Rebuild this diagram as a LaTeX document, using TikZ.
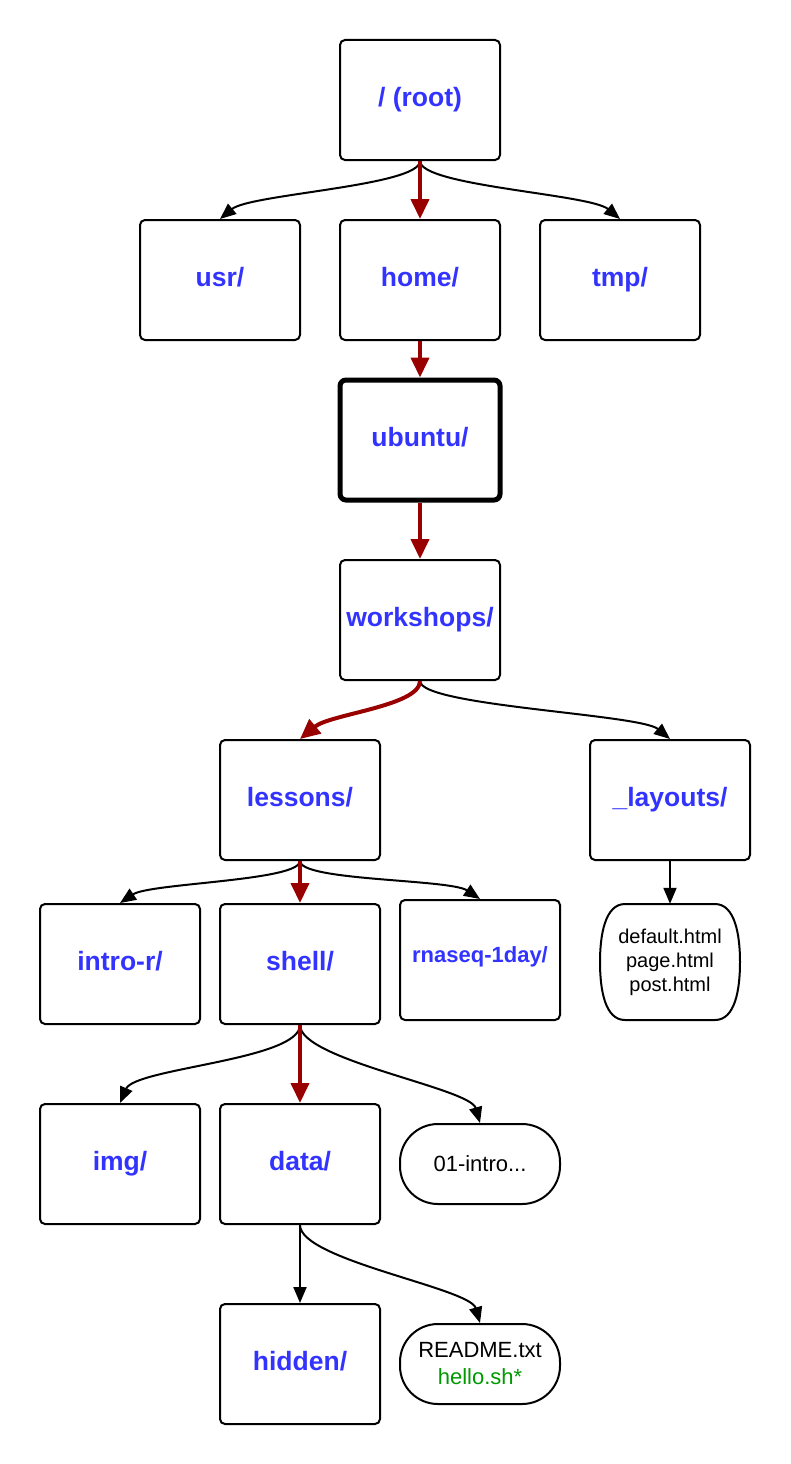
\documentclass[tikz,border=0pt]{standalone}
\usepackage{fontspec}
\setmainfont{Liberation Sans}
\usetikzlibrary{arrows.meta}
\definecolor{dirblue}{HTML}{3333FF}
\definecolor{pathred}{HTML}{990000}
\definecolor{exegreen}{HTML}{009900}
\begin{document}
\begin{tikzpicture}[x=1pt,y=-1pt,
  dirbox/.style={draw, line width=2pt, rounded corners=5pt, minimum width=160pt, minimum height=120pt,
    inner sep=0pt, text height=18pt, text depth=6pt, font=\fontsize{26.5}{31}\selectfont\bfseries, text=dirblue},
  smalldir/.style={dirbox, text height=14pt, text depth=9pt, font=\fontsize{22}{27}\selectfont\bfseries},
  curdir/.style={dirbox, line width=5pt, rounded corners=6pt},
  filebox/.style={draw, line width=2pt, rounded corners=38pt, minimum width=160pt, minimum height=80pt,
    inner sep=0pt, align=center, font=\fontsize{22}{27}\selectfont, text=black},
  filelist/.style={draw=none, minimum width=140pt, minimum height=116pt, inner sep=0pt,
    align=center, font=\fontsize{20}{24}\selectfont, text=black},
  link/.style={draw=black, line width=2pt, -{Triangle[length=16pt,width=13pt]}},
  pathlink/.style={draw=pathred, line width=4pt, -{Triangle[length=20pt,width=18pt]}}
]
\useasboundingbox (0,0) rectangle (790,1464);

\node[dirbox] (root) at (420,100) {/ (root)};
\node[dirbox] (usr) at (220,280) {usr/};
\node[dirbox] (home) at (420,280) {home/};
\node[dirbox] (tmp) at (620,280) {tmp/};
\node[curdir] (ubuntu) at (420,440) {ubuntu/};
\node[dirbox] (workshops) at (420,620) {workshops/};
\node[dirbox] (lessons) at (300,800) {lessons/};
\node[dirbox] (layouts) at (670,800) {\_layouts/};
\node[dirbox] (intror) at (120,964) {intro-r/};
\node[dirbox] (shell) at (300,964) {shell/};
\node[smalldir] (rnaseq) at (480,960) {rnaseq-1day/};
\node[filelist] (html) at (670,962) {default.html\\page.html\\post.html};
\draw[line width=2pt] (625,904) -- (715,904)
  .. controls (735,904) and (740,935) .. (740,962)
  .. controls (740,990) and (735,1020) .. (715,1020) -- (625,1020)
  .. controls (605,1020) and (600,990) .. (600,962)
  .. controls (600,935) and (605,904) .. cycle;
\node[dirbox] (img) at (120,1164) {img/};
\node[dirbox] (data) at (300,1164) {data/};
\node[filebox] (intro) at (480,1164) {01-intro...};
\node[dirbox] (hidden) at (300,1364) {hidden/};
\node[filebox] (readme) at (480,1364) {README.txt\\\textcolor{exegreen}{hello.sh*}};

% black connectors
\draw[link] (root.south) .. controls +(0,25) and +(30,-25) .. (usr.north);
\draw[link] (root.south) .. controls +(0,25) and +(-30,-25) .. (tmp.north);
\draw[link] (workshops.south) .. controls +(0,25) and +(-30,-25) .. (layouts.north);
\draw[link] (lessons.south) .. controls +(0,20) and +(30,-20) .. (intror.north);
\draw[link] (lessons.south) .. controls +(0,20) and +(-30,-20) .. (rnaseq.north);
\draw[link] (layouts.south) -- (html.north);
\draw[link] (shell.south) .. controls +(0,35) and +(15,-35) .. (img.north);
\draw[link] (shell.south) .. controls +(0,35) and +(-10,-35) .. (intro.north);
\draw[link] (data.south) -- (hidden.north);
\draw[link] (data.south) .. controls +(0,35) and +(-10,-35) .. (readme.north);

% red path connectors
\draw[pathlink] (root.south) -- (home.north);
\draw[pathlink] (home.south) -- (ubuntu.north);
\draw[pathlink] (ubuntu.south) -- (workshops.north);
\draw[pathlink] (workshops.south) .. controls +(0,25) and +(30,-25) .. (lessons.north);
\draw[pathlink] (lessons.south) -- (shell.north);
\draw[pathlink] (shell.south) -- (data.north);
\end{tikzpicture}
\end{document}
